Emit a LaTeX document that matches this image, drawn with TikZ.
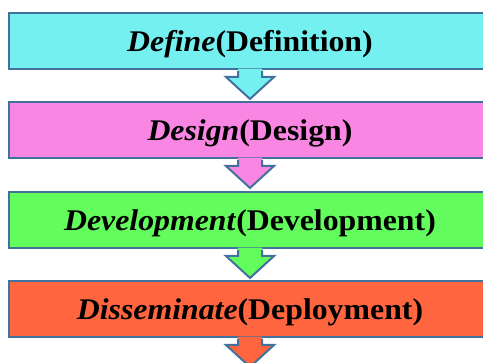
\documentclass[tikz,border=0pt]{standalone}
\usepackage{fontspec}
\setmainfont{Liberation Serif}
\usetikzlibrary{calc}
\definecolor{edgeblue}{RGB}{65,113,156}
\definecolor{stagecyan}{RGB}{116,240,240}
\definecolor{stagepink}{RGB}{249,134,227}
\definecolor{stagegreen}{RGB}{98,252,92}
\definecolor{stageorange}{RGB}{255,102,64}
\newcommand{\stagetext}[2]{\scalebox{1.06}[1]{\fontsize{30}{36}\selectfont\bfseries\textit{#1}(#2)}}
\begin{document}
\begin{tikzpicture}[x=1pt,y=1pt,
  stagebox/.style={draw=edgeblue, line width=2pt, rectangle,
    minimum width=482pt, minimum height=56pt, inner sep=0pt,
    text height=21.4pt, text depth=0pt, align=center},
  arrowedge/.style={draw=edgeblue, line width=2pt, line join=miter}]
\useasboundingbox (0,0) rectangle (483,-363);
\clip (0,0) rectangle (483,-363);

% the four stages, top to bottom
\node[stagebox, fill=stagecyan]   (define)  at (250,-41)  {\stagetext{Define}{Definition}};
\node[stagebox, fill=stagepink]   (design)  at (250,-130) {\stagetext{Design}{Design}};
\node[stagebox, fill=stagegreen]  (develop) at (250,-220) {\stagetext{Development}{Development}};
\node[stagebox, fill=stageorange] (dissem)  at (250,-309) {\stagetext{Disseminate}{Deployment}};

% block arrow hanging below each stage, open into the box above
\foreach \b/\c in {define/stagecyan, design/stagepink, develop/stagegreen, dissem/stageorange}{
  \coordinate (\b-a) at (\b.south);
  \fill[\c] ($(\b-a)+(-12,1.3)$) -- ($(\b-a)+(-12,-7)$) -- ($(\b-a)+(-24,-7)$)
    -- ($(\b-a)+(0,-29)$) -- ($(\b-a)+(24,-7)$) -- ($(\b-a)+(12,-7)$)
    -- ($(\b-a)+(12,1.3)$) -- cycle;
  \draw[arrowedge] ($(\b-a)+(-12,-1)$) -- ($(\b-a)+(-12,-7)$) -- ($(\b-a)+(-24,-7)$)
    -- ($(\b-a)+(0,-29)$) -- ($(\b-a)+(24,-7)$) -- ($(\b-a)+(12,-7)$)
    -- ($(\b-a)+(12,-1)$);
}
\end{tikzpicture}
\end{document}
